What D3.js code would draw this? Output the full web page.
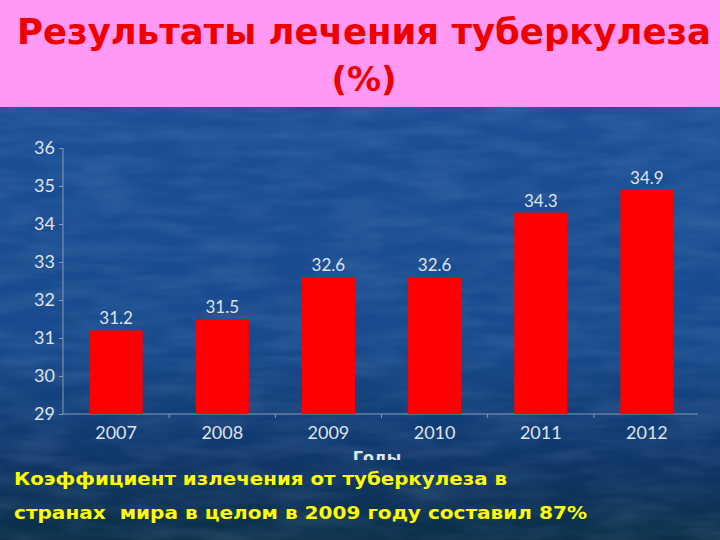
<!DOCTYPE html>
<html><head><meta charset="utf-8">
<script src="https://cdn.jsdelivr.net/npm/d3@7"></script>
<style>html,body{margin:0;padding:0;background:#000;}svg{display:block;}</style>
</head><body>
<script>
const years = ["2007","2008","2009","2010","2011","2012"];
const values = [31.2, 31.5, 32.6, 32.6, 34.3, 34.9];
const yTicks = [29,30,31,32,33,34,35,36];
const titleLines = ["Результаты лечения туберкулеза", "(%)"];
const noteLines = ["Коэффициент излечения от туберкулеза в", "странах  мира в целом в 2009 году составил 87%"];
const axisTitle = "Годы";

const W = 720, H = 540;
const svg = d3.select("body").append("svg").attr("width", W).attr("height", H);
const defs = svg.append("defs");
const g1 = defs.append("linearGradient").attr("id","bg").attr("x1",0).attr("y1",0).attr("x2",0).attr("y2",1);
g1.append("stop").attr("offset","0%").attr("stop-color","#1b5096");
g1.append("stop").attr("offset","55%").attr("stop-color","#184a8c");
g1.append("stop").attr("offset","80%").attr("stop-color","#0f386c");
g1.append("stop").attr("offset","100%").attr("stop-color","#0b2f48");
defs.append("clipPath").attr("id","clipT").append("rect").attr("x",0).attr("y",0).attr("width",W).attr("height",460);

const f = defs.append("filter").attr("id","tex").attr("x",0).attr("y",0).attr("width","100%").attr("height","100%");
f.append("feTurbulence").attr("type","fractalNoise").attr("baseFrequency","0.015 0.07").attr("numOctaves",3).attr("seed",4).attr("result","n");
f.append("feColorMatrix").attr("in","n").attr("type","matrix")
 .attr("values","0 0 0 0 0.55  0 0 0 0 0.7  0 0 0 0 1  0 0 0 0.6 -0.2");

svg.append("rect").attr("x",0).attr("y",107).attr("width",W).attr("height",H-107).attr("fill","url(#bg)");
svg.append("rect").attr("x",0).attr("y",107).attr("width",W).attr("height",H-107).attr("filter","url(#tex)").attr("opacity",0.35);

// header
svg.append("rect").attr("x",0).attr("y",0).attr("width",W).attr("height",107).attr("fill","#ff99f3");
svg.append("text").attr("x",17).attr("y",44)
  .attr("font-family","DejaVu Sans").attr("font-weight","bold").attr("font-size",35)
  .attr("textLength",694).attr("lengthAdjust","spacingAndGlyphs")
  .attr("fill","#ee0000").text(titleLines[0]);
svg.append("text").attr("x",364).attr("y",91).attr("text-anchor","middle")
  .attr("font-family","DejaVu Sans").attr("font-weight","bold").attr("font-size",34)
  .attr("fill","#ee0000").text(titleLines[1]);

// chart
const x = d3.scaleBand().domain(years).range([63,700]).paddingInner(0.5).paddingOuter(0.25);
const y = d3.scaleLinear().domain([29,36]).range([414,148]);

const axisColor = "#8a9ab0";
const labelColor = "#dfe3ea";
const yAxis = svg.append("g").attr("transform","translate(63,0)")
  .call(d3.axisLeft(y).tickValues(yTicks).tickSize(4).tickPadding(4).tickFormat(d3.format("d")));
const xAxis = svg.append("g").attr("transform","translate(0,414)")
  .call(d3.axisBottom(x).tickSize(0).tickPadding(12));
[yAxis,xAxis].forEach(a=>{
  a.select(".domain").attr("stroke",axisColor).attr("stroke-width",1);
  a.selectAll(".tick line").attr("stroke",axisColor);
  a.selectAll("text").attr("fill",labelColor).attr("font-family","Lato").attr("font-size",18);
});
yAxis.select(".domain").attr("d","M0,148V414");
xAxis.select(".domain").attr("d","M63,0H698");
const bounds = years.slice(1).map(d=> x(d) - x.step()*x.paddingInner()/2);
xAxis.selectAll("line.bt").data(bounds).join("line").attr("class","bt")
  .attr("x1",d=>d).attr("x2",d=>d).attr("y1",0).attr("y2",4).attr("stroke",axisColor);

svg.append("g").selectAll("rect").data(values).join("rect")
  .attr("x",(d,i)=>x(years[i])).attr("width",x.bandwidth())
  .attr("y",d=>y(d)).attr("height",d=>414-y(d)).attr("fill","#ff0000");

svg.append("g").selectAll("text").data(values).join("text")
  .attr("x",(d,i)=>x(years[i])+x.bandwidth()/2).attr("y",d=>y(d)-6)
  .attr("text-anchor","middle").attr("font-family","Lato").attr("font-size",17)
  .attr("fill",labelColor).text(d=>d.toFixed(1));

svg.append("text").attr("clip-path","url(#clipT)")
  .attr("x",377).attr("y",463).attr("text-anchor","middle")
  .attr("font-family","DejaVu Sans").attr("font-weight","bold").attr("font-size",16)
  .attr("fill",labelColor).text(axisTitle);

const noteLens = [493, 573];
svg.append("g").selectAll("text").data(noteLines).join("text")
  .attr("x",14).attr("y",(d,i)=>485+i*34)
  .attr("xml:space","preserve").style("white-space","pre")
  .attr("font-family","DejaVu Sans").attr("font-weight","bold").attr("font-size",18)
  .attr("textLength",(d,i)=>noteLens[i]).attr("lengthAdjust","spacingAndGlyphs")
  .attr("fill","#ffff00").text(d=>d);
</script>
</body></html>
